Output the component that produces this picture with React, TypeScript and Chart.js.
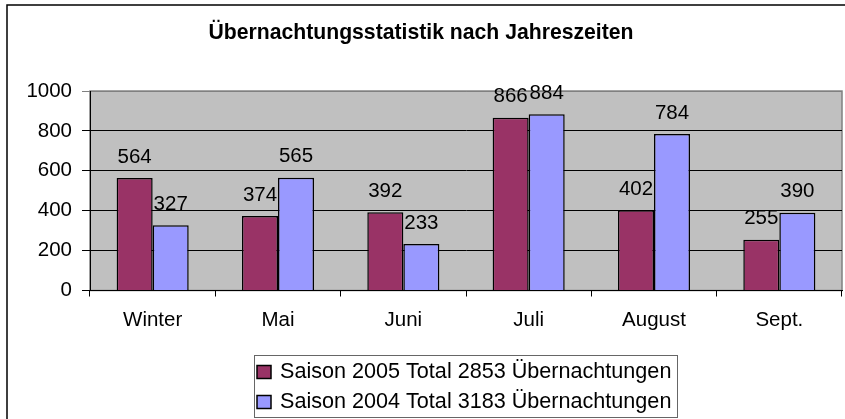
import React, { useEffect, useRef } from 'react';
import { Chart, registerables } from 'chart.js';

Chart.register(...registerables);

const categories = ['Winter', 'Mai', 'Juni', 'Juli', 'August', 'Sept.'];
const season2005 = [564, 374, 392, 866, 402, 255];
const season2004 = [327, 565, 233, 884, 784, 390];
const seriesLabels = [
  'Saison 2005 Total 2853 Übernachtungen',
  'Saison 2004 Total 3183 Übernachtungen',
];
const seriesColors = ['#993366', '#9999ff'];
const chartTitle = 'Übernachtungsstatistik nach Jahreszeiten';
const yMin = 0;
const yMax = 1000;
const yStep = 200;

const FONT = '"Liberation Sans", Arial, sans-serif';

const backgroundPlugin = {
  id: 'bgPlugin',
  beforeDraw(chart: any) {
    const { ctx, chartArea } = chart;
    ctx.save();
    ctx.fillStyle = '#ffffff';
    ctx.fillRect(0, 0, chart.width, chart.height);
    ctx.fillStyle = '#c0c0c0';
    ctx.fillRect(chartArea.left, chartArea.top, chartArea.right - chartArea.left, chartArea.bottom - chartArea.top);
    ctx.strokeStyle = '#808080';
    ctx.lineWidth = 1.5;
    ctx.strokeRect(chartArea.left, chartArea.top, chartArea.right - chartArea.left, chartArea.bottom - chartArea.top);
    ctx.strokeStyle = '#000000';
    ctx.lineWidth = 1.5;
    ctx.strokeRect(7, 5, chart.width, chart.height);
    ctx.restore();
  },
};

const dataLabelPlugin = {
  id: 'dataLabels',
  afterDatasetsDraw(chart: any) {
    const { ctx } = chart;
    ctx.save();
    ctx.font = `20.5px ${FONT}`;
    ctx.fillStyle = '#000000';
    ctx.textAlign = 'center';
    ctx.textBaseline = 'middle';
    chart.data.datasets.forEach((ds: any, di: number) => {
      const meta = chart.getDatasetMeta(di);
      meta.data.forEach((bar: any, i: number) => {
        ctx.fillText(String(ds.data[i]), bar.x, bar.y - 21);
      });
    });
    ctx.restore();
  },
};

const legendPlugin = {
  id: 'boxedLegend',
  afterDraw(chart: any) {
    const { ctx, chartArea } = chart;
    const datasets = chart.data.datasets;
    ctx.save();
    ctx.font = `21.6px ${FONT}`;
    let maxText = 0;
    datasets.forEach((ds: any) => {
      maxText = Math.max(maxText, ctx.measureText(ds.label).width);
    });
    const marker = 14;
    const markerH = 13;
    const gap = 9;
    const padL = 3;
    const padR = 6;
    const boxW = padL + marker + gap + maxText + padR;
    const boxH = 62;
    const cx = (chartArea.left + chartArea.right) / 2;
    const left = Math.round(cx - boxW / 2);
    const top = Math.round(chartArea.bottom + 64.5);
    ctx.strokeStyle = '#666666';
    ctx.lineWidth = 1;
    ctx.strokeRect(left + 0.5, top + 0.5, Math.round(boxW), boxH);
    ctx.textAlign = 'left';
    ctx.textBaseline = 'middle';
    datasets.forEach((ds: any, i: number) => {
      const rowY = top + 17 + i * 30;
      const mx = left + padL;
      ctx.fillStyle = ds.backgroundColor;
      ctx.fillRect(mx, rowY - markerH / 2, marker, markerH);
      ctx.strokeStyle = '#000000';
      ctx.lineWidth = 1.5;
      ctx.strokeRect(mx, rowY - markerH / 2, marker, markerH);
      ctx.fillStyle = '#000000';
      ctx.fillText(ds.label, mx + marker + gap, rowY);
    });
    ctx.restore();
  },
};

export default function App() {
  const canvasRef = useRef<HTMLCanvasElement | null>(null);

  useEffect(() => {
    if (!canvasRef.current) return;
    const chart = new Chart(canvasRef.current, {
      type: 'bar',
      data: {
        labels: categories,
        datasets: [
          {
            label: seriesLabels[0],
            data: season2005,
            backgroundColor: seriesColors[0],
            borderColor: '#000000',
            borderWidth: 1.5,
            categoryPercentage: 0.575,
            barPercentage: 1,
          },
          {
            label: seriesLabels[1],
            data: season2004,
            backgroundColor: seriesColors[1],
            borderColor: '#000000',
            borderWidth: 1.5,
            categoryPercentage: 0.575,
            barPercentage: 1,
          },
        ],
      },
      options: {
        responsive: false,
        animation: false,
        layout: { padding: { left: 0, right: 3, top: 0, bottom: 66 } },
        plugins: {
          title: {
            display: true,
            text: chartTitle,
            color: '#000000',
            font: { family: FONT, size: 21.2, weight: 'bold' },
            padding: { top: 20, bottom: 45.6 },
          },
          legend: { display: false },
          tooltip: { enabled: false },
        },
        scales: {
          x: {
            offset: true,
            grid: {
              display: true,
              drawOnChartArea: false,
              offset: true,
              tickLength: 6,
              color: '#000000',
            },
            border: { display: true, color: '#000000', width: 1 },
            ticks: {
              color: '#000000',
              font: { family: FONT, size: 20.5 },
              padding: 12,
              maxRotation: 0,
              autoSkip: false,
            },
            afterFit(scale: any) {
              scale.height = 62.5;
            },
          },
          y: {
            min: yMin,
            max: yMax,
            ticks: {
              stepSize: yStep,
              color: '#000000',
              font: { family: FONT, size: 20.5 },
              padding: 10,
              callback: (v: any) => String(v),
            },
            grid: {
              color: (c: any) => (c.tick && c.tick.value === yMax ? '#808080' : '#000000'),
              lineWidth: 1,
              tickLength: 8,
            },
            border: { display: true, color: '#000000', width: 1 },
            afterFit(scale: any) {
              scale.width = 90;
            },
          },
        },
      },
      plugins: [backgroundPlugin, dataLabelPlugin, legendPlugin],
    });
    return () => chart.destroy();
  }, []);

  return (
    <div style={{ position: 'absolute', left: 0, top: 0, width: 845, height: 419 }}>
      <canvas ref={canvasRef} width={845} height={419} style={{ display: 'block' }} />
    </div>
  );
}
